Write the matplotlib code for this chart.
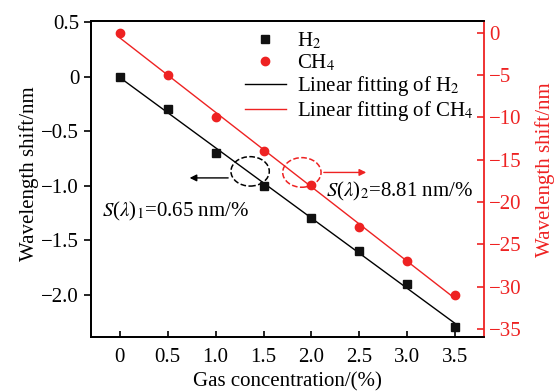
import numpy as np
import matplotlib.pyplot as plt
from matplotlib.patches import Ellipse
from matplotlib.lines import Line2D

plt.rcParams['font.family'] = ['Liberation Serif', 'DejaVu Serif']
plt.rcParams['mathtext.fontset'] = 'stix'
plt.rcParams['font.size'] = 15

# gas concentration (%) and measured wavelength shifts
conc = [0, 0.5, 1.0, 1.5, 2.0, 2.5, 3.0, 3.5]
shift_h2 = [0, -0.3, -0.7, -1.0, -1.3, -1.6, -1.9, -2.3]
shift_ch4 = [0, -5, -10, -14, -18, -23, -27, -31]

x_ticks = [0, 0.5, 1.0, 1.5, 2.0, 2.5, 3.0, 3.5]
x_labels = ['0', '0.5', '1.0', '1.5', '2.0', '2.5', '3.0', '3.5']
left_ticks = [0.5, 0, -0.5, -1.0, -1.5, -2.0]
left_labels = ['0.5', '0', '\u22120.5', '\u22121.0', '\u22121.5', '\u22122.0']
right_ticks = [0, -5, -10, -15, -20, -25, -30, -35]

red = '#ee2222'

fig = plt.figure(figsize=(5.59, 3.92), dpi=100)
ax1 = fig.add_axes([91 / 559, 1 - 337 / 392, (484 - 91) / 559, (337 - 21) / 392])
ax2 = ax1.twinx()

x = np.array(conc)
p1 = np.polyfit(x, shift_h2, 1)
p2 = np.polyfit(x, shift_ch4, 1)

ax1.plot(x, np.polyval(p1, x), color='k', lw=1)
ax1.plot(x, shift_h2, 's', color='#111111', ms=5.5, ls='none')
ax2.plot(x, np.polyval(p2, x), color=red, lw=1)
ax2.plot(x, shift_ch4, 'o', color=red, ms=6, ls='none')

ax1.set_xlim(-0.3, 3.8)
ax1.set_ylim(-2.39, 0.51)
ax2.set_ylim(-35.95, 1.4)

ax1.set_xticks(x_ticks)
ax1.set_xticklabels(x_labels)
ax1.set_yticks(left_ticks)
ax1.set_yticklabels(left_labels)
ax2.set_yticks(right_ticks)
ax2.set_yticklabels([str(t).replace('-', '\u2212') for t in right_ticks])

ax1.tick_params(axis='x', direction='in', length=4, width=1.2, pad=8)
ax1.tick_params(axis='y', direction='out', length=5, width=1.2)
ax2.tick_params(axis='y', direction='in', length=5, width=1.2, colors=red)

for s in ['left', 'bottom', 'top']:
    ax1.spines[s].set_linewidth(1.3)
ax1.spines['right'].set_visible(False)
ax2.spines['right'].set_color(red)
ax2.spines['right'].set_linewidth(1.3)
ax2.spines['top'].set_linewidth(1.3)
ax2.spines['left'].set_linewidth(1.3)
ax2.spines['bottom'].set_linewidth(1.3)

ax1.set_xlabel('Gas concentration/(%)', labelpad=4)
ax1.set_ylabel('Wavelength shift/nm')
ax2.set_ylabel('Wavelength shift/nm', color=red)
ax1.yaxis.set_label_coords(-0.133, 0.516)
ax2.yaxis.set_label_coords(1.13, 0.528)

# dashed ellipses with arrows pointing to the matching axis
ax1.add_patch(Ellipse((1.36, -0.87), 0.4, 0.27, fill=False, ls='--', lw=1.1, color='k'))
ax1.annotate('', xy=(0.7, -0.93), xytext=(1.16, -0.93),
             arrowprops=dict(arrowstyle='-|>', color='k', lw=1, mutation_scale=10))
ax2.add_patch(Ellipse((1.9, -16.5), 0.4, 3.5, fill=False, ls='--', lw=1.1, color=red))
ax2.annotate('', xy=(2.6, -16.5), xytext=(2.1, -16.5),
             arrowprops=dict(arrowstyle='-|>', color=red, lw=1, mutation_scale=10))

ax1.text(-0.19, -1.24, r'$S$($\lambda$)$_1$=0.65 nm/%', va='center')
ax2.text(2.15, -18.8, r'$S$($\lambda$)$_2$=8.81 nm/%', va='center')

handles = [
    Line2D([], [], marker='s', color='#111111', ls='none', ms=5.5),
    Line2D([], [], marker='o', color=red, ls='none', ms=6),
    Line2D([], [], color='k', lw=1),
    Line2D([], [], color=red, lw=1),
]
labels = [r'H$_2$', r'CH$_4$', r'Linear fitting of H$_2$', r'Linear fitting of CH$_4$']
ax1.legend(handles, labels, loc='upper right', bbox_to_anchor=(1.01, 1.015), frameon=False,
           handlelength=2.0, handletextpad=0.5, labelspacing=0.05, borderaxespad=0.3)

fig.savefig('out.png', dpi=100)
